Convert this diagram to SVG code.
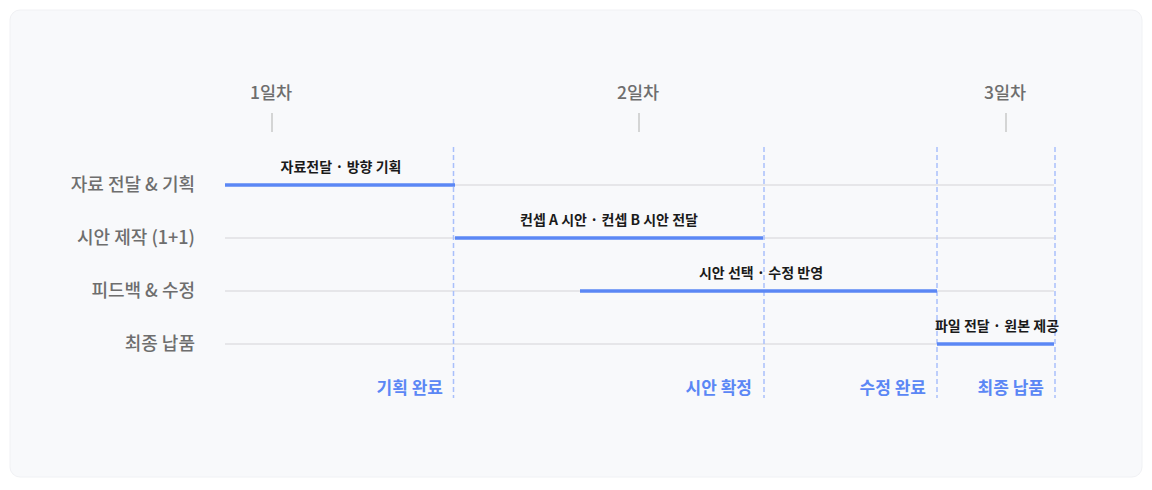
<svg xmlns="http://www.w3.org/2000/svg" width="1152" height="490" viewBox="0 0 1152 490">
<style>
.day{font-family:"Noto Sans CJK KR","Noto Sans",sans-serif;font-size:17.5px;font-weight:500;fill:#6e6e6e;text-anchor:middle}
.row{font-family:"Noto Sans CJK KR","Noto Sans",sans-serif;font-size:18px;font-weight:500;fill:#6e6e6e;text-anchor:end}
.task{font-family:"Noto Sans CJK KR","Noto Sans",sans-serif;font-size:14px;font-weight:bold;fill:#1a1a1a;text-anchor:middle}
.ms{font-family:"Noto Sans CJK KR","Noto Sans",sans-serif;font-size:17px;font-weight:bold;fill:#5b87f5;text-anchor:end}
.tick{stroke:#c8c8c8;stroke-width:1.5}
.grid{stroke:#d4d4d8;stroke-width:1.2}
.bar{stroke:#5b87f5;stroke-width:3.5}
.dash{stroke:#a9c0fb;stroke-width:1.5;stroke-dasharray:5 3}
</style>
<rect x="10" y="10" width="1132" height="467" rx="10" fill="#f8f9fb" stroke="#f0f1f4"/>
<g id="days">
<text class="day" x="271" y="99">1일차</text>
<text class="day" x="638" y="99">2일차</text>
<text class="day" x="1005" y="99">3일차</text>
<line class="tick" x1="272" y1="113" x2="272" y2="132"/>
<line class="tick" x1="639" y1="113" x2="639" y2="132"/>
<line class="tick" x1="1006" y1="113" x2="1006" y2="132"/>
</g>
<g id="grid">
<line class="grid" x1="225" y1="185" x2="1054" y2="185"/>
<line class="grid" x1="225" y1="238" x2="1054" y2="238"/>
<line class="grid" x1="225" y1="291" x2="1054" y2="291"/>
<line class="grid" x1="225" y1="344" x2="1054" y2="344"/>
</g>
<g id="row-labels">
<text class="row" x="195" y="191">자료 전달 &amp; 기획</text>
<text class="row" x="195" y="244">시안 제작 (1+1)</text>
<text class="row" x="195" y="297">피드백 &amp; 수정</text>
<text class="row" x="195" y="350">최종 납품</text>
</g>
<g id="connectors">
<line class="dash" x1="453.5" y1="147" x2="453.5" y2="398"/>
<line class="dash" x1="764" y1="147" x2="764" y2="398"/>
<line class="dash" x1="937" y1="147" x2="937" y2="398"/>
<line class="dash" x1="1055" y1="147" x2="1055" y2="398"/>
</g>
<g id="task1"><line class="bar" x1="225" y1="185" x2="455" y2="185"/><text class="task" x="341" y="172">자료전달 · 방향 기획</text></g>
<g id="task2"><line class="bar" x1="455" y1="238" x2="763" y2="238"/><text class="task" x="609" y="225">컨셉 A 시안 · 컨셉 B 시안 전달</text></g>
<g id="task3"><line class="bar" x1="580" y1="291" x2="937" y2="291"/><text class="task" x="761" y="278">시안 선택 · 수정 반영</text></g>
<g id="task4"><line class="bar" x1="937" y1="344" x2="1054" y2="344"/><text class="task" x="997" y="331">파일 전달 · 원본 제공</text></g>
<g id="milestones">
<text class="ms" x="443" y="394">기획 완료</text>
<text class="ms" x="752" y="394">시안 확정</text>
<text class="ms" x="926" y="394">수정 완료</text>
<text class="ms" x="1044" y="394">최종 납품</text>
</g>
</svg>
